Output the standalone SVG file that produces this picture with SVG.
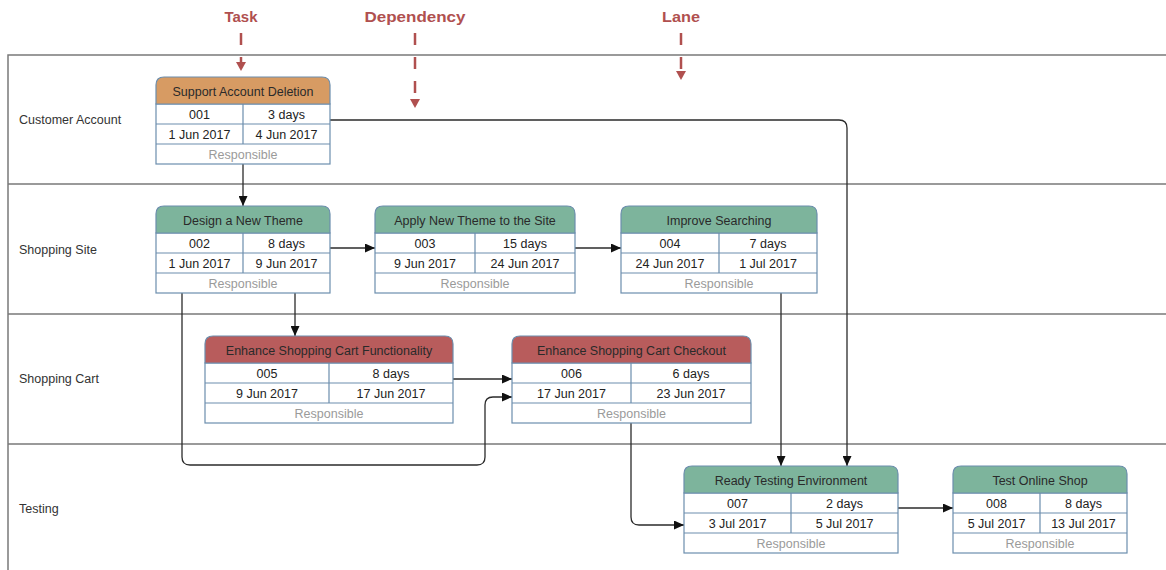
<svg xmlns="http://www.w3.org/2000/svg" width="1166" height="570" viewBox="0 0 1166 570">
<style>
.lane{stroke:#7a7a7a;stroke-width:1.5;fill:none}
.lbl{font-family:"Liberation Sans",Arial,sans-serif;font-size:12.5px;fill:#333}
.ann{font-family:"Liberation Sans",Arial,sans-serif;font-size:15px;font-weight:bold;fill:#B0504F;text-anchor:middle}
.annl{stroke:#B0504F;stroke-width:2.5;stroke-dasharray:12 12;fill:none}
.annh{fill:#B0504F}
.box{fill:#fff;stroke:#6C8EAD;stroke-width:1.2}
.sep{stroke:#6C8EAD;stroke-width:1.2}
.hd{stroke:#6C8EAD;stroke-width:1.2}
.o{fill:#D79B63}.g{fill:#7DB49C}.r{fill:#B85C5C}
.ht{font-family:"Liberation Sans",Arial,sans-serif;font-size:12.5px;fill:#2a2a2a;text-anchor:middle}
.ct{font-family:"Liberation Sans",Arial,sans-serif;font-size:12.5px;fill:#222;text-anchor:middle}
.rt{font-family:"Liberation Sans",Arial,sans-serif;font-size:12.5px;fill:#9a9a9a;text-anchor:middle}
.con{stroke:#2b2b2b;stroke-width:1.3;fill:none}
</style>
<defs>
<marker id="ar" markerUnits="userSpaceOnUse" markerWidth="10" markerHeight="9" refX="10" refY="4.5" orient="auto">
<path d="M0,0 L10,4.5 L0,9 z" fill="#111"/>
</marker>
</defs>
<rect width="1166" height="570" fill="#fff"/>

<g id="lanes">
<path class="lane" d="M1166,55 H8 V570"/>
<path class="lane" d="M8,184 H1166 M8,314 H1166 M8,444 H1166"/>
<text class="lbl" x="19" y="124">Customer Account</text>
<text class="lbl" x="19" y="254">Shopping Site</text>
<text class="lbl" x="19" y="383">Shopping Cart</text>
<text class="lbl" x="19" y="513">Testing</text>
</g>

<g id="annotations">
<text class="ann" x="241" y="22" textLength="33" lengthAdjust="spacingAndGlyphs">Task</text>
<path class="annl" d="M241,33 V62"/>
<polygon class="annh" points="236,62 246,62 241,71"/>
<text class="ann" x="415" y="22" textLength="101" lengthAdjust="spacingAndGlyphs">Dependency</text>
<path class="annl" d="M415,33 V99"/>
<polygon class="annh" points="410,99 420,99 415,108"/>
<text class="ann" x="681" y="22" textLength="38" lengthAdjust="spacingAndGlyphs">Lane</text>
<path class="annl" d="M681,33 V71"/>
<polygon class="annh" points="676,71 686,71 681,80"/>
</g>

<g id="connectors">
<path class="con" d="M243,163 V206" marker-end="url(#ar)"/>
<path class="con" d="M330,120 H839 Q847,120 847,128 V466" marker-end="url(#ar)" stroke="#555"/>
<path class="con" d="M330,248 H375" marker-end="url(#ar)"/>
<path class="con" d="M575,248 H621" marker-end="url(#ar)"/>
<path class="con" d="M295,293 V336" marker-end="url(#ar)"/>
<path class="con" d="M182,293 V457 Q182,465 190,465 H477 Q485,465 485,457 V405 Q485,397 493,397 H512" marker-end="url(#ar)"/>
<path class="con" d="M453,379 H512" marker-end="url(#ar)"/>
<path class="con" d="M781,293 V466" marker-end="url(#ar)"/>
<path class="con" d="M631,423 V517 Q631,525 639,525 H684" marker-end="url(#ar)"/>
<path class="con" d="M898,508 H953" marker-end="url(#ar)"/>
</g>

<g id="task-001" transform="translate(156,77)">
<rect class="box" x="0" y="27" width="174" height="60"/>
<path class="o hd" d="M0,27 V8 Q0,0 8,0 H166 Q174,0 174,8 V27 Z"/>
<path class="sep" d="M0,47 H174 M0,67 H174 M87,27 V67"/>
<text class="ht" x="87" y="18.5">Support Account Deletion</text>
<text class="ct" x="43.5" y="41.5">001</text><text class="ct" x="130.5" y="41.5">3 days</text>
<text class="ct" x="43.5" y="61.5">1 Jun 2017</text><text class="ct" x="130.5" y="61.5">4 Jun 2017</text>
<text class="rt" x="87" y="81.5">Responsible</text>
</g>

<g id="task-002" transform="translate(156,206)">
<rect class="box" x="0" y="27" width="174" height="60"/>
<path class="g hd" d="M0,27 V8 Q0,0 8,0 H166 Q174,0 174,8 V27 Z"/>
<path class="sep" d="M0,47 H174 M0,67 H174 M87,27 V67"/>
<text class="ht" x="87" y="18.5">Design a New Theme</text>
<text class="ct" x="43.5" y="41.5">002</text><text class="ct" x="130.5" y="41.5">8 days</text>
<text class="ct" x="43.5" y="61.5">1 Jun 2017</text><text class="ct" x="130.5" y="61.5">9 Jun 2017</text>
<text class="rt" x="87" y="81.5">Responsible</text>
</g>

<g id="task-003" transform="translate(375,206)">
<rect class="box" x="0" y="27" width="200" height="60"/>
<path class="g hd" d="M0,27 V8 Q0,0 8,0 H192 Q200,0 200,8 V27 Z"/>
<path class="sep" d="M0,47 H200 M0,67 H200 M100,27 V67"/>
<text class="ht" x="100" y="18.5">Apply New Theme to the Site</text>
<text class="ct" x="50" y="41.5">003</text><text class="ct" x="150" y="41.5">15 days</text>
<text class="ct" x="50" y="61.5">9 Jun 2017</text><text class="ct" x="150" y="61.5">24 Jun 2017</text>
<text class="rt" x="100" y="81.5">Responsible</text>
</g>

<g id="task-004" transform="translate(621,206)">
<rect class="box" x="0" y="27" width="196" height="60"/>
<path class="g hd" d="M0,27 V8 Q0,0 8,0 H188 Q196,0 196,8 V27 Z"/>
<path class="sep" d="M0,47 H196 M0,67 H196 M98,27 V67"/>
<text class="ht" x="98" y="18.5">Improve Searching</text>
<text class="ct" x="49" y="41.5">004</text><text class="ct" x="147" y="41.5">7 days</text>
<text class="ct" x="49" y="61.5">24 Jun 2017</text><text class="ct" x="147" y="61.5">1 Jul 2017</text>
<text class="rt" x="98" y="81.5">Responsible</text>
</g>

<g id="task-005" transform="translate(205,336)">
<rect class="box" x="0" y="27" width="248" height="60"/>
<path class="r hd" d="M0,27 V8 Q0,0 8,0 H240 Q248,0 248,8 V27 Z"/>
<path class="sep" d="M0,47 H248 M0,67 H248 M124,27 V67"/>
<text class="ht" x="124" y="18.5">Enhance Shopping Cart Functionality</text>
<text class="ct" x="62" y="41.5">005</text><text class="ct" x="186" y="41.5">8 days</text>
<text class="ct" x="62" y="61.5">9 Jun 2017</text><text class="ct" x="186" y="61.5">17 Jun 2017</text>
<text class="rt" x="124" y="81.5">Responsible</text>
</g>

<g id="task-006" transform="translate(512,336)">
<rect class="box" x="0" y="27" width="239" height="60"/>
<path class="r hd" d="M0,27 V8 Q0,0 8,0 H231 Q239,0 239,8 V27 Z"/>
<path class="sep" d="M0,47 H239 M0,67 H239 M119,27 V67"/>
<text class="ht" x="119.5" y="18.5">Enhance Shopping Cart Checkout</text>
<text class="ct" x="59.5" y="41.5">006</text><text class="ct" x="179" y="41.5">6 days</text>
<text class="ct" x="59.5" y="61.5">17 Jun 2017</text><text class="ct" x="179" y="61.5">23 Jun 2017</text>
<text class="rt" x="119.5" y="81.5">Responsible</text>
</g>

<g id="task-007" transform="translate(684,466)">
<rect class="box" x="0" y="27" width="214" height="60"/>
<path class="g hd" d="M0,27 V8 Q0,0 8,0 H206 Q214,0 214,8 V27 Z"/>
<path class="sep" d="M0,47 H214 M0,67 H214 M107,27 V67"/>
<text class="ht" x="107" y="18.5">Ready Testing Environment</text>
<text class="ct" x="53.5" y="41.5">007</text><text class="ct" x="160.5" y="41.5">2 days</text>
<text class="ct" x="53.5" y="61.5">3 Jul 2017</text><text class="ct" x="160.5" y="61.5">5 Jul 2017</text>
<text class="rt" x="107" y="81.5">Responsible</text>
</g>

<g id="task-008" transform="translate(953,466)">
<rect class="box" x="0" y="27" width="174" height="60"/>
<path class="g hd" d="M0,27 V8 Q0,0 8,0 H166 Q174,0 174,8 V27 Z"/>
<path class="sep" d="M0,47 H174 M0,67 H174 M87,27 V67"/>
<text class="ht" x="87" y="18.5">Test Online Shop</text>
<text class="ct" x="43.5" y="41.5">008</text><text class="ct" x="130.5" y="41.5">8 days</text>
<text class="ct" x="43.5" y="61.5">5 Jul 2017</text><text class="ct" x="130.5" y="61.5">13 Jul 2017</text>
<text class="rt" x="87" y="81.5">Responsible</text>
</g>
</svg>
